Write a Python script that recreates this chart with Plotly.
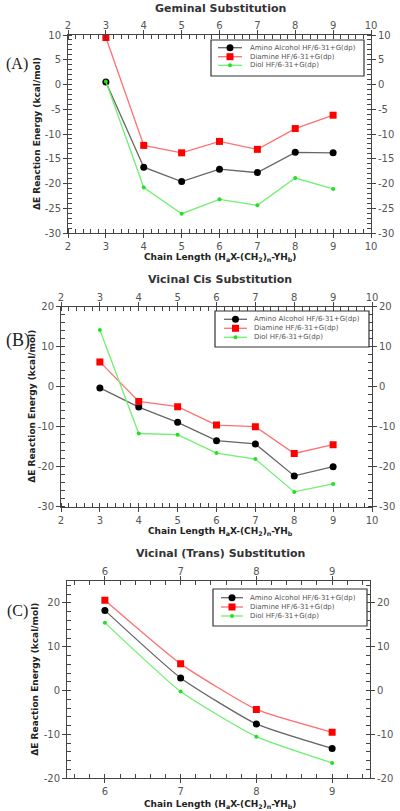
import plotly.graph_objects as go

# ---------------- data ----------------
series_names = ["Amino Alcohol HF/6-31+G(dp)", "Diamine HF/6-31+G(dp)", "Diol HF/6-31+G(dp)"]

gem_x = [3, 4, 5, 6, 7, 8, 9]
gem_amino = [0.5, -16.7, -19.6, -17.1, -17.8, -13.7, -13.8]
gem_diamine = [9.5, -12.3, -13.8, -11.5, -13.1, -8.9, -6.2]
gem_diol = [0.6, -20.8, -26.1, -23.2, -24.4, -18.9, -21.1]

cis_x = [3, 4, 5, 6, 7, 8, 9]
cis_amino = [-0.3, -5.1, -8.9, -13.5, -14.3, -22.3, -20.0]
cis_diamine = [6.2, -3.7, -5.0, -9.6, -10.0, -16.7, -14.5]
cis_diol = [14.2, -11.7, -12.0, -16.6, -18.1, -26.3, -24.3]

trans_x = [6, 7, 8, 9]
trans_amino = [18.3, 2.9, -7.6, -13.2]
trans_diamine = [20.6, 6.1, -4.3, -9.5]
trans_diol = [15.5, -0.2, -10.5, -16.5]

# tick values / labels
gem_xticks = [2, 3, 4, 5, 6, 7, 8, 9, 10]
gem_yticks = [10, 5, 0, -5, -10, -15, -20, -25, -30]
cis_xticks = [2, 3, 4, 5, 6, 7, 8, 9, 10]
cis_yticks = [20, 10, 0, -10, -20, -30]
trans_xticks = [6, 7, 8, 9]
trans_yticks = [20, 10, 0, -10, -20]

panel_titles = ["Geminal Substitution", "Vicinal Cis Substitution", "Vicinal (Trans) Substitution"]
panel_tags = ["(A)", "(B)", "(C)"]
x_titles = ["Chain Length (H<sub>a</sub>X-(CH<sub>2</sub>)<sub>n</sub>-YH<sub>b</sub>)",
            "Chain Length H<sub>a</sub>X-(CH<sub>2</sub>)<sub>n</sub>-YH<sub>b</sub>",
            "Chain Length (H<sub>a</sub>X-(CH<sub>2</sub>)<sub>n</sub>-YH<sub>b</sub>)"]
y_title = "ΔE Reaction Energy (kcal/mol)"

# ---------------- layout helpers ----------------
W, H = 400, 811
def px(x):
    return x / W
def py(y):
    return 1 - y / H

panels = [
    dict(x=gem_x, ys=[gem_amino, gem_diamine, gem_diol], xd=[68, 371], yd=[35, 233],
         xr=[2, 10], xt=gem_xticks, xminor=0.2, yr=[-30, 10], yt=gem_yticks, yminor=1, shape="linear",
         title_y=8, tag=(17, 64, 16), ytitle_x=37, xtitle_y=258,
         leg_box=(211, 40, 364, 76), leg_rows=[47.7, 56.7, 65.3], leg_line=(218, 242), leg_text=248),
    dict(x=cis_x, ys=[cis_amino, cis_diamine, cis_diol], xd=[61, 372], yd=[306.7, 506.7],
         xr=[2, 10], xt=cis_xticks, xminor=0.2, yr=[-30, 20], yt=cis_yticks, yminor=2, shape="linear",
         title_y=279, tag=(18, 340, 18), ytitle_x=32, xtitle_y=531,
         leg_box=(215, 311, 369, 347), leg_rows=[319.3, 328.3, 337.3], leg_line=(224, 247), leg_text=252),
    dict(x=trans_x, ys=[trans_amino, trans_diamine, trans_diol], xd=[67, 370], yd=[581, 778.3],
         xr=[5.5, 9.5], xt=trans_xticks, xminor=0.2, yr=[-20, 25], yt=trans_yticks, yminor=2, shape="spline",
         title_y=553, tag=(17, 611, 16), ytitle_x=35, xtitle_y=804,
         leg_box=(213, 589, 367, 626), leg_rows=[597.7, 607, 616], leg_line=(221, 243), leg_text=248),
]

line_colors = ["#666666", "#ff7070", "#70f070"]
marker_colors = ["#000000", "#ff0000", "#22e022"]
marker_symbols = ["circle", "square", "circle"]
marker_sizes = [7, 7, 4]

FONT = "DejaVu Sans"
tick_font = dict(family=FONT, size=10, color="#555555")
axis_color = "#444444"

def fmt(v):
    return str(v)  # plain hyphen-minus, as in the original

fig = go.Figure()
layout = dict(width=W, height=H, margin=dict(l=0, r=0, t=0, b=0, autoexpand=False),
              plot_bgcolor="white", paper_bgcolor="white", showlegend=False,
              font=dict(family=FONT))
annotations = []
shapes = []

def note(text, x, y, size, color="#222222", family=FONT, angle=0, xanchor="center"):
    annotations.append(dict(text=text, x=px(x), y=py(y), xref="paper", yref="paper",
                            xanchor=xanchor, yanchor="middle", showarrow=False, textangle=angle,
                            font=dict(family=family, size=size, color=color)))

for i, p in enumerate(panels):
    k = i + 1
    kt = i + 4
    xa = "x" if k == 1 else f"x{k}"
    ya = "y" if k == 1 else f"y{k}"
    xat = f"x{kt}"
    yat = f"y{kt}"
    xdom = [px(p["xd"][0]), px(p["xd"][1])]
    ydom = [py(p["yd"][1]), py(p["yd"][0])]

    for j in range(3):
        fig.add_trace(go.Scatter(
            x=p["x"], y=p["ys"][j], xaxis=xa, yaxis=ya, name=series_names[j],
            mode="lines+markers",
            line=dict(color=line_colors[j], width=1.3, shape=p["shape"], smoothing=0.5),
            marker=dict(color=marker_colors[j], symbol=marker_symbols[j], size=marker_sizes[j]),
        ))
    # invisible trace to anchor mirrored axes
    fig.add_trace(go.Scatter(x=p["x"], y=p["ys"][0], xaxis=xat, yaxis=yat, mode="markers",
                             marker=dict(opacity=0), showlegend=False, hoverinfo="skip"))

    common_x = dict(range=p["xr"], tickmode="array", tickvals=p["xt"], ticktext=[fmt(v) for v in p["xt"]],
                    showgrid=False, zeroline=False,
                    showline=True, linecolor=axis_color, linewidth=1, automargin=False,
                    ticks="outside", ticklen=4, tickcolor=axis_color, tickfont=tick_font,
                    minor=dict(dtick=p["xminor"], tick0=0, ticks="inside", ticklen=4, tickcolor=axis_color))
    common_y = dict(range=p["yr"], tickmode="array", tickvals=p["yt"], ticktext=[fmt(v) for v in p["yt"]],
                    showgrid=False, zeroline=False,
                    showline=True, linecolor=axis_color, linewidth=1, automargin=False,
                    ticks="outside", ticklen=4, tickcolor=axis_color, tickfont=tick_font,
                    minor=dict(dtick=p["yminor"], tick0=0, ticks="inside", ticklen=4, tickcolor=axis_color))
    xk = "xaxis" if k == 1 else f"xaxis{k}"
    yk = "yaxis" if k == 1 else f"yaxis{k}"
    layout[xk] = dict(domain=xdom, anchor=ya, side="bottom", **common_x)
    layout[yk] = dict(domain=ydom, anchor=xa, side="left", **common_y)
    layout[f"xaxis{kt}"] = dict(domain=xdom, anchor=yat, overlaying=xa, side="top",
                                ticklabelstandoff=-3, **common_x)
    layout[f"yaxis{kt}"] = dict(domain=ydom, anchor=xat, overlaying=ya, side="right", **common_y)

    # ---- legend (drawn with shapes + text) ----
    bx0, by0, bx1, by1 = p["leg_box"]
    shapes.append(dict(type="rect", xref="paper", yref="paper",
                       x0=px(bx0), x1=px(bx1), y0=py(by1), y1=py(by0),
                       line=dict(color="#333333", width=1.2), fillcolor="white"))
    lx0, lx1 = p["leg_line"]
    mx = (lx0 + lx1) / 2
    for j, ry in enumerate(p["leg_rows"]):
        shapes.append(dict(type="line", xref="paper", yref="paper",
                           x0=px(lx0), x1=px(lx1), y0=py(ry), y1=py(ry),
                           line=dict(color=line_colors[j], width=1.3)))
        r = marker_sizes[j] / 2
        shapes.append(dict(type="circle" if marker_symbols[j] == "circle" else "rect",
                           xref="paper", yref="paper",
                           x0=px(mx - r), x1=px(mx + r), y0=py(ry + r), y1=py(ry - r),
                           line=dict(width=0), fillcolor=marker_colors[j]))
        note(series_names[j], p["leg_text"], ry, 7, color="#555555", xanchor="left")

    note(f"<b>{panel_titles[i]}</b>", 220, p["title_y"], 11, color="#333333")
    note(panel_tags[i], p["tag"][0], p["tag"][1], p["tag"][2], family="Liberation Serif")
    note(f"<b>{y_title}</b>", p["ytitle_x"], (p["yd"][0] + p["yd"][1]) / 2, 9, angle=-90)
    note(f"<b>{x_titles[i]}</b>", 220, p["xtitle_y"], 9)

layout["annotations"] = annotations
layout["shapes"] = shapes
fig.update_layout(**layout)
fig.write_html("out.html", config={"displayModeBar": False},
               post_script="document.body.style.margin='0';document.body.style.overflow='hidden';")
